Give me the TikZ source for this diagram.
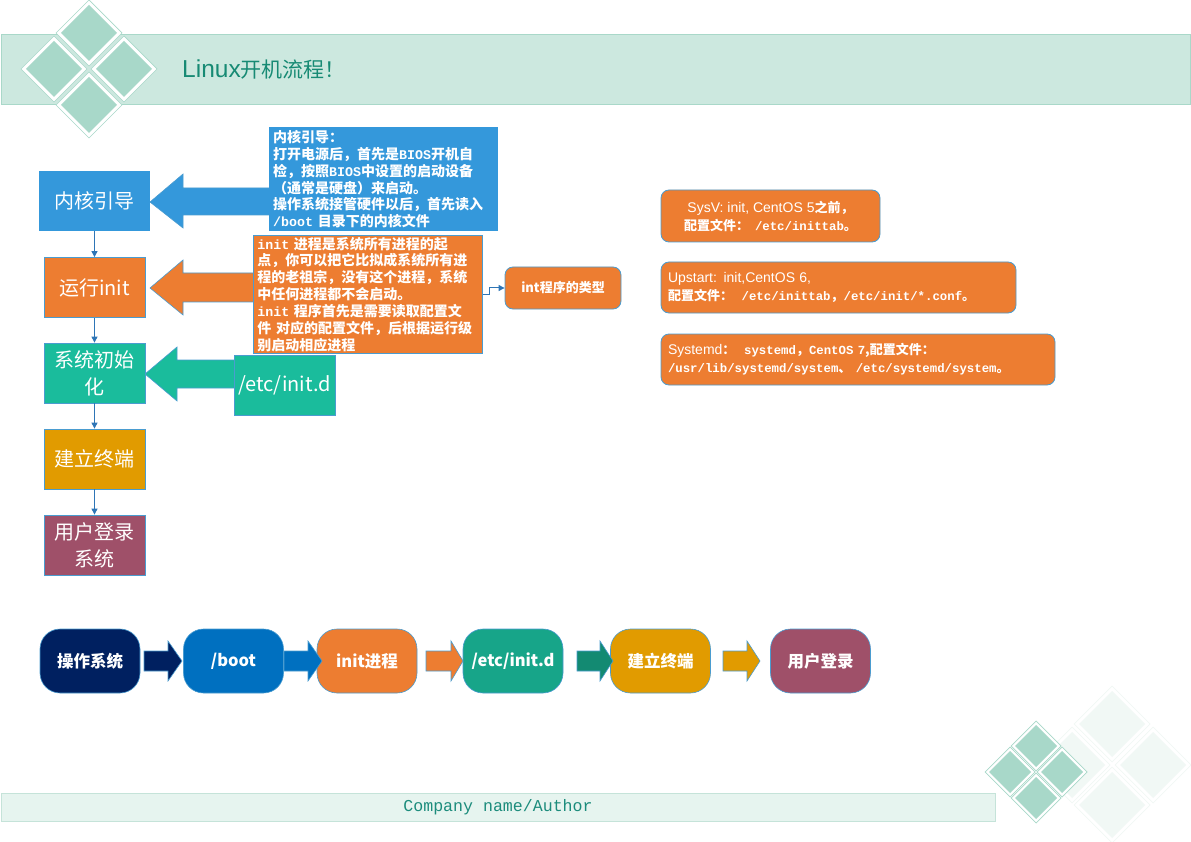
\documentclass[tikz,border=0pt]{standalone}
\usepackage{fontspec}
\setmainfont{Noto Sans CJK SC}
\newfontfamily\cjk{Noto Sans CJK SC}
\newfontfamily\mono[Scale=0.95]{Liberation Mono}
\newfontfamily\footmono{Liberation Mono}
\newfontfamily\lat{Liberation Sans}
\usetikzlibrary{arrows.meta}
\definecolor{hdr}{HTML}{CCE8DF}
\definecolor{hdrb}{HTML}{A9D8C9}
\definecolor{dia}{HTML}{A8D8C9}
\definecolor{faint}{HTML}{F1F8F5}
\definecolor{titlec}{HTML}{178A74}
\definecolor{blu}{HTML}{3498DB}
\definecolor{ora}{HTML}{ED7D31}
\definecolor{tea}{HTML}{1ABC9C}
\definecolor{gold}{HTML}{E19B00}
\definecolor{mar}{HTML}{9F5069}
\definecolor{conn}{HTML}{2E75B6}
\definecolor{bd}{HTML}{4A9CD0}
\definecolor{navy}{HTML}{002060}
\definecolor{bootb}{HTML}{0070C0}
\definecolor{tea2}{HTML}{17A589}
\definecolor{tea3}{HTML}{138A72}
\definecolor{ftr}{HTML}{E6F4EF}
\definecolor{ftb}{HTML}{C5E3D9}
\definecolor{ftt}{HTML}{1C8C7C}
\newcommand\mydia[5]{%
  \filldraw[fill=white,draw=dia,line width=0.7] (#1-#3,#2) -- (#1,#2-#3) -- (#1+#3,#2) -- (#1,#2+#3) -- cycle;
  \fill[#5] (#1-#4,#2) -- (#1,#2-#4) -- (#1+#4,#2) -- (#1,#2+#4) -- cycle;}
\newcommand\myfaint[3]{%
  \filldraw[fill=white,draw=faint,line width=0.7] (#1-#3,#2) -- (#1,#2-#3) -- (#1+#3,#2) -- (#1,#2+#3) -- cycle;
  \fill[faint] (#1-#3+5,#2) -- (#1,#2-#3+5) -- (#1+#3-5,#2) -- (#1,#2+#3-5) -- cycle;}
\tikzset{
  lbox/.style={minimum width=101, minimum height=60, inner sep=0, draw=bd, line width=0.8,
    text=white, align=center, font=\cjk\fontsize{20}{27}\selectfont},
  tbox/.style={text=white, align=left, inner ysep=0, inner xsep=4,
    font=\cjk\bfseries\fontsize{14}{16.9}\selectfont},
  rbox/.style={rounded corners=8, fill=ora, draw=bd, line width=0.8, text=white, inner ysep=0, inner xsep=7,
    font=\cjk\bfseries\fontsize{13}{18}\selectfont},
  fbox/.style={rounded corners=20, minimum width=100, minimum height=64, inner sep=0, draw=bd, line width=0.6,
    text=white, font=\cjk\bfseries\fontsize{16.5}{18}\selectfont},
  barrow/.style={draw=bd, line width=0.6},
  vconn/.style={draw=conn, line width=1, -{Triangle[length=6pt,width=6pt]}}
}
\begin{document}
\begin{tikzpicture}[x=1pt,y=-1pt]
\useasboundingbox (0,0) rectangle (1191,842);
% header
\draw[fill=hdr, draw=hdrb, line width=0.8] (1,34) rectangle (1190,104);
\mydia{89}{33}{33}{28}{dia}
\mydia{54}{69}{33}{28}{dia}
\mydia{124}{69}{33}{28}{dia}
\mydia{89}{105}{33}{28}{dia}
\node[anchor=west, text=titlec, inner sep=0, font=\cjk\fontsize{21}{24}\selectfont] (title) at (182,70) {{\lat\fontsize{24.5}{26}\selectfont Linux}开机流程！};

% big block arrows (left)
\filldraw[fill=blu, barrow] (150,202) -- (183,174) -- (183,188) -- (275,188) -- (275,215) -- (183,215) -- (183,228) -- cycle;
\filldraw[fill=ora, barrow] (150,288) -- (183,260) -- (183,273) -- (258,273) -- (258,302) -- (183,302) -- (183,315) -- cycle;
\filldraw[fill=tea, barrow] (145,374) -- (177,347) -- (177,360) -- (238,360) -- (238,388) -- (177,388) -- (177,401) -- cycle;

% left column
\node[lbox, fill=blu, draw=none, minimum width=111] (k1) at (94.5,201) {内核引导};
\node[lbox, fill=ora] (k2) at (94.5,287.5) {运行init};
\node[lbox, fill=tea] (k3) at (94.5,373) {系统初始\\化};
\node[lbox, fill=gold] (k4) at (94.5,459) {建立终端};
\node[lbox, fill=mar] (k5) at (94.5,545) {用户登录\\系统};
\draw[vconn] (k1.south) -- (k2.north);
\draw[vconn] (k2.south) -- (k3.north);
\draw[vconn] (k3.south) -- (k4.north);
\draw[vconn] (k4.south) -- (k5.north);

\node[lbox, fill=tea] (etc) at (284.5,385.5) {/etc/init.d};

% text boxes
\node[tbox, fill=blu, text width=221, minimum height=104, anchor=north west] (t1) at (269,127) {%
内核引导：\\%
打开电源后，首先是{\mono BIOS}开机自\\%
检，按照{\mono BIOS}中设置的启动设备\\%
（通常是硬盘）来启动。\\%
操作系统接管硬件以后，首先读入\\%
{\mono /boot} 目录下的内核文件};
\node[tbox, fill=ora, draw=bd, line width=0.8, text width=221, minimum height=118, anchor=north west] (t2) at (253,235) {%
{\mono init} 进程是系统所有进程的起\\%
点，你可以把它比拟成系统所有进\\%
程的老祖宗，没有这个进程，系统\\%
中任何进程都不会启动。\\%
{\mono init} 程序首先是需要读取配置文\\%
件 对应的配置文件，后根据运行级\\%
别启动相应进程};

\node[rbox, minimum width=116, minimum height=42, inner sep=0] (int) at (563,288) {int程序的类型};
\draw[conn, line width=1, -{Triangle[length=6pt,width=6pt]}] (t2.east) -- ++(7,0) |- (int.west);

% right boxes
\node[rbox, minimum width=219, minimum height=52, align=center] (sysv) at (770.5,216) {%
{\lat\mdseries\fontsize{14}{18}\selectfont SysV: init, CentOS 5}之前，\\%
配置文件：\ \ {\mono /etc/inittab}。};
\node[rbox, text width=341, minimum height=51, align=left] (upst) at (838.5,287.5) {%
{\lat\mdseries\fontsize{14}{18}\selectfont Upstart: init,CentOS 6,}\\%
配置文件：\ \ {\mono /etc/inittab}，{\mono /etc/init/*.conf}。};
\node[rbox, text width=380, minimum height=51, align=left] (sysd) at (858,359.5) {%
{\lat\mdseries\fontsize{14}{18}\selectfont Systemd}：\ \ {\mono systemd}，{\mono CentOS 7},配置文件：\\%
{\mono /usr/lib/systemd/system}、{\mono\ /etc/systemd/system}。};

% bottom flow
\node[fbox, fill=navy] (f1) at (90,661) {操作系统};
\node[fbox, fill=bootb] (f2) at (233.5,661) {/boot};
\node[fbox, fill=ora] (f3) at (367,661) {init进程};
\node[fbox, fill=tea2] (f4) at (513,661) {/etc/init.d};
\node[fbox, fill=gold] (f5) at (660.5,661) {建立终端};
\node[fbox, fill=mar] (f6) at (820.5,661) {用户登录};
\filldraw[fill=navy, barrow] (144,651) -- (168,651) -- (168,641) -- (182,661) -- (168,681) -- (168,671) -- (144,671) -- cycle;
\filldraw[fill=bootb, barrow] (284,651) -- (308,651) -- (308,641) -- (322,661) -- (308,681) -- (308,671) -- (284,671) -- cycle;
\filldraw[fill=ora, barrow] (426,651) -- (451,651) -- (451,641) -- (463,661) -- (451,681) -- (451,671) -- (426,671) -- cycle;
\filldraw[fill=tea3, barrow] (577,651) -- (600,651) -- (600,641) -- (613,661) -- (600,681) -- (600,671) -- (577,671) -- cycle;
\filldraw[fill=gold, barrow] (723,651) -- (747,651) -- (747,641) -- (760,661) -- (747,681) -- (747,671) -- (723,671) -- cycle;

% bottom-right decoration
\myfaint{1112}{724}{38}
\myfaint{1153}{765}{38}
\myfaint{1112}{805}{38}
\myfaint{1072}{765}{38}
\mydia{1036}{746}{25}{21}{dia}
\mydia{1010}{772}{25}{21}{dia}
\mydia{1062}{772}{25}{21}{dia}
\mydia{1036}{798}{25}{21}{dia}

% footer
\node[draw=ftb, fill=ftr, line width=0.8, minimum width=994, minimum height=28, inner sep=0,
  text=ftt, font=\footmono\fontsize{16.6}{18}\selectfont] (foot) at (498,807) {Company name/Author};
\end{tikzpicture}
\end{document}
